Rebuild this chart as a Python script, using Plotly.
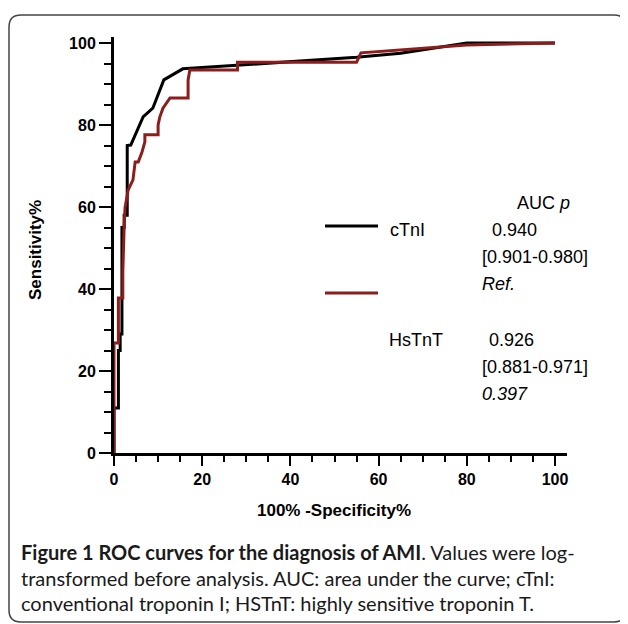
import plotly.graph_objects as go

# ---- data ----
ctni_fpr = [0, 0, 1, 1, 1.4, 1.4, 1.8, 1.8, 2.3, 2.3, 3.0, 3.0, 3.8, 6.6, 8.8, 11.3, 15.6, 17, 24, 40, 55, 65, 80, 100]
ctni_sens = [0, 11, 11, 25, 25, 29, 29, 55, 55, 58, 58, 75, 75.1, 82, 84.1, 91, 93.7, 93.8, 94.2, 95.5, 96.5, 97.5, 100, 100]

hstnt_fpr = [0, 0, 1, 1, 2, 2, 2.3, 2.5, 3.2, 4, 4.3, 4.8, 5.5, 6.3, 7, 7, 10, 10, 10.4, 11.1, 12.7, 16.8, 16.8, 17.2, 28, 28, 55, 56, 80, 100]
hstnt_sens = [0, 26.8, 26.8, 37.8, 37.8, 44.2, 55.2, 59.8, 64.1, 66.2, 66.6, 71, 71, 73.2, 75.9, 77.6, 77.6, 80, 82, 84.1, 86.6, 86.6, 91, 93.4, 93.4, 95.3, 95.3, 97.6, 99.5, 100]

x_ticks = [0, 20, 40, 60, 80, 100]
y_ticks = [0, 20, 40, 60, 80, 100]

BLACK = "#000000"
RED = "#8C1D1D"

OFF = 8  # page body margin
W, H = 628 - OFF, 624 - OFF
ML, MR, MT, MB = 114 - OFF, 69 - OFF, 37 - OFF, 171
PW, PH = W - ML - MR, H - MT - MB


def px(x):
    return (x - OFF - ML) / PW


def py(y):
    return (H - MB - (y - OFF)) / PH


fig = go.Figure()
fig.add_trace(go.Scatter(x=ctni_fpr, y=ctni_sens, mode="lines",
                         line=dict(color=BLACK, width=3), name="cTnI"))
fig.add_trace(go.Scatter(x=hstnt_fpr, y=hstnt_sens, mode="lines",
                         line=dict(color=RED, width=3), name="HsTnT"))

axfont = dict(family="Liberation Sans, Arial, sans-serif", size=16, color="black", weight="bold")

fig.update_xaxes(range=[0, PW / 4.41], tickvals=x_ticks, ticks="outside", ticklen=10,
                 tickwidth=2, tickcolor="black", showline=True, linewidth=3,
                 linecolor="black", showgrid=False, zeroline=False,
                 tickfont=axfont,
                 minor=dict(dtick=5, tick0=0, ticks="outside", ticklen=6, tickwidth=2,
                            tickcolor="black", showgrid=False))
fig.update_yaxes(range=[0, PH / 4.1], tickvals=y_ticks, ticks="outside", ticklen=12,
                 tickwidth=2, tickcolor="black", showline=True, linewidth=3,
                 linecolor="black", showgrid=False, zeroline=False,
                 tickfont=axfont,
                 minor=dict(dtick=5, tick0=0, ticks="outside", ticklen=7, tickwidth=2,
                            tickcolor="black", showgrid=False))

shapes = []
# rounded frame
r = 12
x0, x1, y0, y1 = 9, 626, 15, 622
path = (f"M {px(x0 + r)},{py(y0)} L {px(x1 - r)},{py(y0)} "
        f"Q {px(x1)},{py(y0)} {px(x1)},{py(y0 + r)} L {px(x1)},{py(y1 - r)} "
        f"Q {px(x1)},{py(y1)} {px(x1 - r)},{py(y1)} L {px(x0 + r)},{py(y1)} "
        f"Q {px(x0)},{py(y1)} {px(x0)},{py(y1 - r)} L {px(x0)},{py(y0 + r)} "
        f"Q {px(x0)},{py(y0)} {px(x0 + r)},{py(y0)} Z")
shapes.append(dict(type="path", xref="paper", yref="paper", path=path,
                   line=dict(color="#444444", width=1.5), layer="below"))
# legend keys
shapes.append(dict(type="line", xref="paper", yref="paper", x0=px(325), x1=px(378),
                   y0=py(226), y1=py(226), line=dict(color=BLACK, width=3)))
shapes.append(dict(type="line", xref="paper", yref="paper", x0=px(325), x1=px(378),
                   y0=py(293), y1=py(293), line=dict(color=RED, width=3)))

ann = []
lf = dict(family="Liberation Sans, Arial, sans-serif", size=18, color="black")


def txt(x, y, s, anchor="left", font=lf, **kw):
    ann.append(dict(xref="paper", yref="paper", x=px(x), y=py(y), text=s,
                    showarrow=False, xanchor=anchor, yanchor="middle", font=font, **kw))


txt(515, 203, "AUC <i>p</i>")
txt(388, 230, "cTnI")
txt(490, 230, "0.940")
txt(480, 257, "[0.901-0.980]")
txt(480, 284, "<i>Ref.</i>")
txt(387, 340, "HsTnT")
txt(487, 340, "0.926")
txt(480, 367, "[0.881-0.971]")
txt(480, 394, "<i>0.397</i>")

# axis titles
tf = dict(family="Liberation Sans, Arial, sans-serif", size=17, color="black", weight="bold")
txt(334, 510, "100% -Specificity%", anchor="center", font=tf)
txt(35, 250, "Sensitivity%", anchor="center", font=tf, textangle=-90)

# caption
cf = dict(family="Lato, sans-serif", size=20, color="#1a1a1a")
txt(19, 552, "<b>Figure 1 ROC curves for the diagnosis of AMI</b>. Values were log-", font=cf)
txt(19, 578, "transformed before analysis. AUC: area under the curve; cTnI:", font=cf)
txt(19, 603, "conventional troponin I; HSTnT: highly sensitive troponin T.", font=cf)

fig.update_layout(width=W, height=H, margin=dict(l=ML, r=MR, t=MT, b=MB, autoexpand=False),
                  plot_bgcolor="white", paper_bgcolor="white", showlegend=False,
                  shapes=shapes, annotations=ann)

fig.write_html("out.html")
